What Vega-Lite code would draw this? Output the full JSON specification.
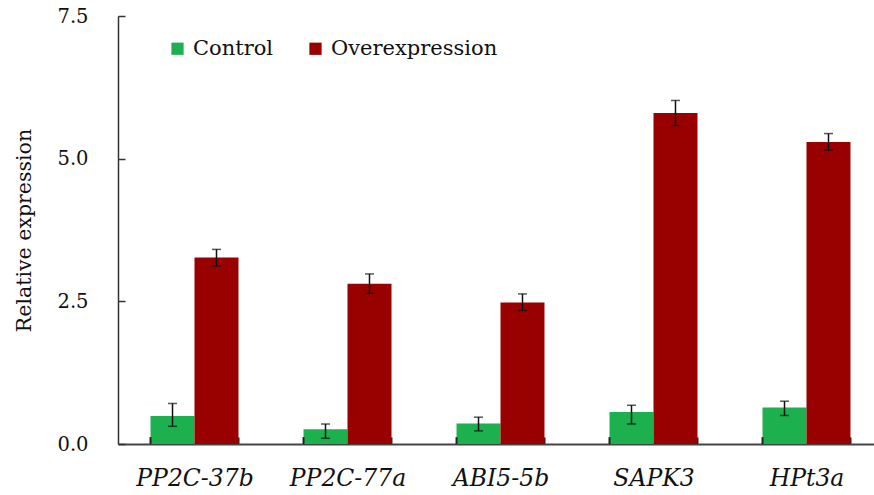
{
  "$schema": "https://vega.github.io/schema/vega-lite/v6.json",
  "width": 765,
  "height": 428,
  "autosize": {"type": "none"},
  "padding": {"left": 118, "top": 16, "right": 0, "bottom": 51},
  "background": "white",
  "config": {
    "view": {"stroke": null},
    "font": "DejaVu Serif"
  },
  "data": {
    "values": [
      {"gene": "PP2C-37b", "group": "Control", "value": 0.49, "lo": 0.31, "hi": 0.71},
      {"gene": "PP2C-37b", "group": "Overexpression", "value": 3.27, "lo": 3.12, "hi": 3.41},
      {"gene": "PP2C-77a", "group": "Control", "value": 0.26, "lo": 0.1, "hi": 0.35},
      {"gene": "PP2C-77a", "group": "Overexpression", "value": 2.81, "lo": 2.64, "hi": 2.98},
      {"gene": "ABI5-5b", "group": "Control", "value": 0.36, "lo": 0.23, "hi": 0.47},
      {"gene": "ABI5-5b", "group": "Overexpression", "value": 2.48, "lo": 2.34, "hi": 2.63},
      {"gene": "SAPK3", "group": "Control", "value": 0.56, "lo": 0.35, "hi": 0.68},
      {"gene": "SAPK3", "group": "Overexpression", "value": 5.8, "lo": 5.58, "hi": 6.02},
      {"gene": "HPt3a", "group": "Control", "value": 0.64, "lo": 0.5, "hi": 0.75},
      {"gene": "HPt3a", "group": "Overexpression", "value": 5.29, "lo": 5.15, "hi": 5.44}
    ]
  },
  "layer": [
    {
      "mark": {"type": "bar"},
      "encoding": {
        "x": {
          "field": "gene",
          "type": "nominal",
          "sort": null,
          "scale": {"paddingInner": 0.425, "paddingOuter": 0.2125},
          "axis": {
            "title": null,
            "labelAngle": 0,
            "labelFont": "DejaVu Serif",
            "labelFontStyle": "italic",
            "labelFontSize": 23.5,
            "labelColor": "#111",
            "labelPadding": 29,
            "ticks": true,
            "tickBand": "extent",
            "tickSize": -7,
            "tickColor": "#222",
            "tickWidth": 2,
            "domainColor": "#444",
            "domainWidth": 2,
            "grid": false
          }
        },
        "xOffset": {"field": "group", "type": "nominal", "scale": {"paddingInner": 0, "paddingOuter": 0}},
        "y": {
          "field": "value",
          "type": "quantitative",
          "scale": {"domain": [0, 7.5], "nice": false},
          "axis": {
            "title": "Relative expression",
            "titleFont": "DejaVu Serif",
            "titleFontSize": 20.5,
            "titleFontWeight": "normal",
            "titleColor": "#111",
            "titlePadding": 22,
            "values": [0, 2.5, 5, 7.5],
            "format": ".1f",
            "labelFont": "DejaVu Serif",
            "labelFontSize": 19.5,
            "labelColor": "#111",
            "labelPadding": 37,
            "tickSize": -7,
            "tickColor": "#333",
            "tickWidth": 1.5,
            "domainColor": "#333",
            "domainWidth": 1.5,
            "grid": false
          }
        },
        "color": {
          "field": "group",
          "type": "nominal",
          "scale": {"domain": ["Control", "Overexpression"], "range": ["#1db04f", "#990000"]},
          "legend": {
            "title": null,
            "orient": "none",
            "direction": "horizontal",
            "legendX": 49,
            "legendY": 22,
            "symbolType": "square",
            "symbolSize": 150,
            "symbolStrokeWidth": 0,
            "labelFont": "DejaVu Serif",
            "labelFontSize": 21,
            "labelColor": "#111",
            "labelLimit": 400,
            "labelOffset": 5,
            "columnPadding": 31
          }
        }
      }
    },
    {
      "transform": [{"filter": "datum.group === 'Control'"}],
      "mark": {"type": "rule", "color": "#222", "strokeWidth": 2},
      "encoding": {
        "x": {"field": "gene", "type": "nominal", "sort": null, "bandPosition": 0},
        "y": {"datum": 0},
        "y2": {"datum": 0.12}
      }
    },
    {
      "mark": {"type": "rule", "color": "#111", "strokeWidth": 1.5},
      "encoding": {
        "x": {"field": "gene", "type": "nominal", "sort": null},
        "xOffset": {"field": "group", "type": "nominal"},
        "y": {"field": "lo", "type": "quantitative"},
        "y2": {"field": "hi"}
      }
    },
    {
      "mark": {"type": "tick", "color": "#111", "thickness": 1.5, "size": 9},
      "encoding": {
        "x": {"field": "gene", "type": "nominal", "sort": null},
        "xOffset": {"field": "group", "type": "nominal"},
        "y": {"field": "lo", "type": "quantitative"}
      }
    },
    {
      "mark": {"type": "tick", "color": "#111", "thickness": 1.5, "size": 9},
      "encoding": {
        "x": {"field": "gene", "type": "nominal", "sort": null},
        "xOffset": {"field": "group", "type": "nominal"},
        "y": {"field": "hi", "type": "quantitative"}
      }
    }
  ]
}
